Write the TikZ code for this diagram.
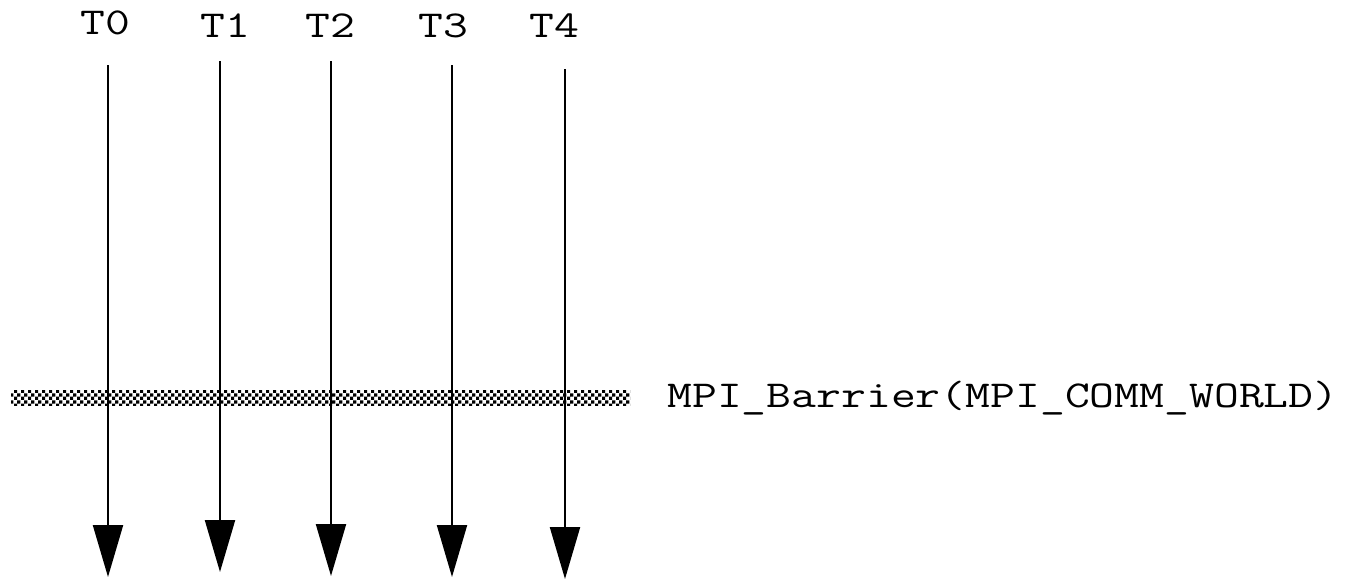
\documentclass[tikz,border=0pt]{standalone}
\usepackage{fontspec}
\usepackage{graphicx}
\usetikzlibrary{patterns,arrows.meta}
% checkerboard used for the barrier band
\pgfdeclarepatternformonly{finecheck}{\pgfpointorigin}{\pgfpoint{3.6pt}{3.6pt}}{\pgfpoint{3.6pt}{3.6pt}}{%
  \pgfpathrectangle{\pgfpointorigin}{\pgfpoint{1.8pt}{1.8pt}}%
  \pgfpathrectangle{\pgfpoint{1.8pt}{1.8pt}}{\pgfpoint{1.8pt}{1.8pt}}%
  \pgfusepath{fill}}
\newcommand{\codetext}[1]{\scalebox{1.27}[1]{\ttfamily\fontsize{19}{23}\selectfont #1}}
\begin{document}
\begin{tikzpicture}[x=0.5pt,y=-0.5pt,
  thread/.style={line width=1.1pt,-{Triangle[length=26pt,width=15pt]}},
  tlabel/.style={inner sep=0pt,anchor=base},
  barrier/.style={pattern=finecheck,draw=none}]
\useasboundingbox (0,0) rectangle (1346,579);
% thread labels
\node[tlabel] (l0) at (105,34) {\codetext{T0}};
\node[tlabel] (l1) at (225,37) {\codetext{T1}};
\node[tlabel] (l2) at (330,37) {\codetext{T2}};
\node[tlabel] (l3) at (443,37) {\codetext{T3}};
\node[tlabel] (l4) at (554,37) {\codetext{T4}};
% thread start and end points
\coordinate (s0) at (108,65);  \coordinate (e0) at (108,577);
\coordinate (s1) at (220,61);  \coordinate (e1) at (220,572);
\coordinate (s2) at (331,61);  \coordinate (e2) at (331,576);
\coordinate (s3) at (452,65);  \coordinate (e3) at (452,577);
\coordinate (s4) at (565,69);  \coordinate (e4) at (565,579);
\foreach \i in {0,...,4} \draw[thread] (s\i) -- (e\i);
% barrier band across all threads
\fill[barrier] (11,390) rectangle (630,405);
% barrier call
\node[tlabel,anchor=base west] (mpi) at (667,407) {\codetext{MPI\_Barrier(MPI\_COMM\_WORLD)}};
\end{tikzpicture}
\end{document}
